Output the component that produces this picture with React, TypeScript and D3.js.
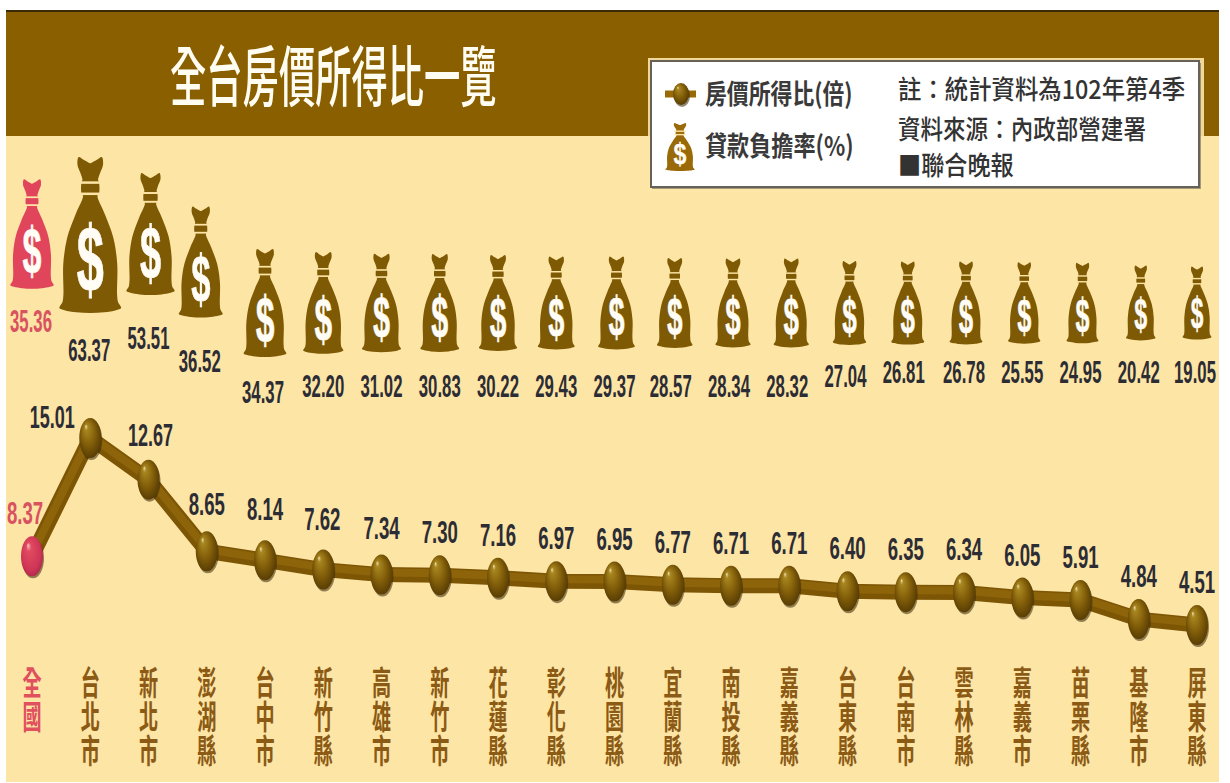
import React from "react";
import * as d3 from "d3";

const categories = ["全國","台北市","新北市","澎湖縣","台中市","新竹縣","高雄市","新竹市","花蓮縣","彰化縣","桃園縣","宜蘭縣","南投縣","嘉義縣","台東縣","台南市","雲林縣","嘉義市","苗栗縣","基隆市","屏東縣"];
const loanBurden = [35.36,63.37,53.51,36.52,34.37,32.20,31.02,30.83,30.22,29.43,29.37,28.57,28.34,28.32,27.04,26.81,26.78,25.55,24.95,20.42,19.05];
const priceIncome = [8.37,15.01,12.67,8.65,8.14,7.62,7.34,7.30,7.16,6.97,6.95,6.77,6.71,6.71,6.40,6.35,6.34,6.05,5.91,4.84,4.51];
const noteLines = ["註：統計資料為102年第4季","資料來源：內政部營建署","■聯合晚報"];

const BROWN = "#8a5f00";
const BAG = "#7f5a04";
const CREAM = "#fde5a6";
const RED = "#e0455c";
const INK = "#2c2c34";
const SANS = "'Liberation Sans', Arial, sans-serif";
const CJK = "'Noto Sans CJK TC', sans-serif";

const x = d3.scalePoint<number>().domain(d3.range(categories.length)).range([32, 1197]);
const y = d3.scaleLinear().domain([4.51, 15.01]).range([625, 438]);
// Bag height grows with the burden rate, with a stronger step for the two largest markets.
const bagHeight = d3.scaleLinear()
  .domain([19.05, 26.78, 30.22, 34.37, 36.52, 53.51, 63.37])
  .range([73, 83, 96, 108, 111, 122, 156]);

// The first four bags sit higher than the rest of the row.
const bagCentre = (i: number) => [234, 235, 234, 262][i] ?? 303;
const bagShift = (i: number) => [0, 0, 2, -6, 0][i] ?? (i >= 10 && i < 20 ? 2 : 0);
const bagLabelCentre = (i: number) =>
  [321, 350, 338, 361, 392][i] ?? (i < 14 ? 386 : i === 14 ? 376 : 372);
const bagLabelShift = (i: number) =>
  [-1, -1, 0, -7, -2][i] ?? (i >= 11 && i < 16 ? -2 : i === 20 ? -2 : 0);
const pointLabelCentre = (i: number, py: number) =>
  [513, 417, 435, 504, 509, 519, 528][i] ?? py - 43;
const pointLabelShift = (i: number) => [-7, -38, 2, 0, 0, -1, 0][i] ?? 0;

const bagOutline = d3.line<[number, number]>().curve(d3.curveCatmullRom.alpha(0.5));
const rightSide: [number, number][] = [
  [0, 0.042], [0.04, 0.02], [0.074, 0], [0.082, 0.05], [0.06, 0.11], [0.05, 0.148],
  [0.056, 0.16], [0.056, 0.235], [0.046, 0.248],
  [0.095, 0.37], [0.148, 0.518], [0.173, 0.687], [0.172, 0.88], [0.178, 0.93], [0.198, 0.968],
  [0.165, 0.982], [0.09, 0.995], [0, 1],
];
const bagPath = (h: number) => {
  const right = rightSide.map(([a, b]) => [a * h, b * h] as [number, number]);
  const left = right.slice(1, -1).reverse().map(([a, b]) => [-a, b] as [number, number]);
  return bagOutline([...right, ...left, right[0]]) ?? "";
};

function MoneyBag({ cx, cy, h, fill, stretch = 1 }: { cx: number; cy: number; h: number; fill: string; stretch?: number }) {
  const fs = h * 0.6;
  const stripe = Math.max(1.4, h * 0.016);
  return (
    <g transform={`translate(${cx},${cy - h / 2}) scale(${stretch},1)`}>
      <path d={bagPath(h)} fill={fill} />
      <rect x={-h * 0.075} y={h * 0.156} width={h * 0.15} height={stripe} fill={CREAM} />
      <rect x={-h * 0.075} y={h * 0.228} width={h * 0.15} height={stripe} fill={CREAM} />
      <text
        transform={`translate(0,${h * 0.66 + fs * 0.335}) scale(0.52,1)`}
        textAnchor="middle" fontFamily={SANS} fontWeight={700} fontSize={fs} fill="#fffdf5"
        stroke="#fffdf5" strokeWidth={h * 0.006}
      >$</text>
    </g>
  );
}

function Ball({ cx, cy, grad, rx = 11, ry = 20 }: { cx: number; cy: number; grad: string; rx?: number; ry?: number }) {
  return (
    <g>
      <ellipse cx={cx + 1} cy={cy + 2} rx={rx} ry={ry} fill="#3a2a08" opacity={0.55} />
      <ellipse cx={cx} cy={cy} rx={rx} ry={ry} fill={`url(#${grad})`} />
    </g>
  );
}

// Figures are set in a tall, condensed cut of the bold sans.
function Value({ text, cx, cy, squeeze, fill }: { text: string; cx: number; cy: number; squeeze: number; fill: string }) {
  return (
    <text transform={`translate(${cx},${cy + 11}) scale(${squeeze},1)`} textAnchor="middle"
      fontFamily={SANS} fontWeight={700} fontSize={31} fill={fill}>{text}</text>
  );
}

function Condensed({ text, left, base, size, weight, squeeze, fill }:
  { text: string; left: number; base: number; size: number; weight: number; squeeze: number; fill: string }) {
  return (
    <text transform={`translate(${left},${base}) scale(${squeeze},1)`} fontFamily={CJK}
      fontWeight={weight} fontSize={size} fill={fill}>{text}</text>
  );
}

export default function App() {
  const trend = d3.line<number>().x((_, i) => x(i)!).y((v) => y(v));
  return (
    <svg width={1230} height={783} viewBox="0 0 1230 783"
      style={{ position: "fixed", left: 0, top: 0, display: "block", background: "#fff" }}>
      <defs>
        <radialGradient id="ballBrown" cx="0.5" cy="0.5" r="0.62" fx="0.3" fy="0.2">
          <stop offset="0" stopColor="#efe3b6" />
          <stop offset="0.12" stopColor="#a8861f" />
          <stop offset="0.5" stopColor="#84600a" />
          <stop offset="0.85" stopColor="#5c4004" />
          <stop offset="1" stopColor="#3c2a02" />
        </radialGradient>
        <radialGradient id="ballRed" cx="0.5" cy="0.5" r="0.62" fx="0.32" fy="0.22">
          <stop offset="0" stopColor="#f8c4c8" />
          <stop offset="0.18" stopColor="#e24a60" />
          <stop offset="0.7" stopColor="#cf3556" />
          <stop offset="1" stopColor="#9c2248" />
        </radialGradient>
      </defs>

      <rect x={6} y={10} width={1213} height={772} fill={CREAM} />
      <rect x={6} y={10} width={1213} height={126} fill={BROWN} />
      <rect x={6} y={10} width={1213} height={2} fill="#3a2a06" />

      <Condensed text="全台房價所得比一覽" left={170} base={101} size={66} weight={500} squeeze={0.55} fill="#fffdf2" />

      <rect x={648} y={58} width={556} height={134} fill={CREAM} opacity={0.9} />
      <rect x={652} y={63} width={549} height={126} fill="#5e5a50" opacity={0.55} />
      <rect x={651} y={61} width={548} height={126} fill="#fff" stroke="#66625a" strokeWidth={2} />

      <line x1={665} x2={696} y1={94} y2={94} stroke="#9a6a08" strokeWidth={7} />
      <Ball cx={681} cy={94} grad="ballBrown" rx={8} ry={11} />
      <MoneyBag cx={680} cy={147} h={48} fill="#9a6a08" stretch={1.55} />
      <Condensed text="房價所得比(倍)" left={705} base={104} size={27} weight={700} squeeze={0.81} fill="#3a3a3a" />
      <Condensed text="貸款負擔率(%)" left={705} base={156} size={27} weight={700} squeeze={0.82} fill="#3a3a3a" />
      {noteLines.map((line, i) => (
        <Condensed key={line} text={line} left={898} base={[99, 139, 175][i]} size={26} weight={500}
          squeeze={[0.9, 0.867, 0.89][i]} fill="#333" />
      ))}

      {loanBurden.map((v, i) => (
        <MoneyBag key={categories[i]} cx={x(i)! + bagShift(i)} cy={bagCentre(i)} h={bagHeight(v)}
          fill={i === 0 ? RED : BAG} />
      ))}
      {loanBurden.map((v, i) => (
        <Value key={categories[i]} text={v.toFixed(2)} cx={x(i)! + bagLabelShift(i)} cy={bagLabelCentre(i)}
          squeeze={0.54} fill={i === 0 ? "#d9525f" : INK} />
      ))}

      <path d={trend(priceIncome) ?? ""} fill="none" stroke="#7c5505" strokeWidth={15} strokeLinejoin="round" />
      <path d={trend(priceIncome) ?? ""} fill="none" stroke="#8e640a" strokeWidth={8} strokeLinejoin="round"
        transform="translate(0,-2)" />
      {priceIncome.map((v, i) => (
        <Ball key={categories[i]} cx={x(i)!} cy={y(v)} grad={i === 0 ? "ballRed" : "ballBrown"} />
      ))}
      {priceIncome.map((v, i) => (
        <Value key={categories[i]} text={v.toFixed(2)} cx={x(i)! + pointLabelShift(i)}
          cy={pointLabelCentre(i, y(v))} squeeze={v >= 10 ? 0.58 : 0.6} fill={i === 0 ? "#d9525f" : INK} />
      ))}

      {/* Place names run top to bottom, one column per area. */}
      {categories.map((name, i) => (
        <text key={name} transform={`translate(${x(i)},666) scale(0.58,1)`}
          style={{ writingMode: "vertical-rl" }} letterSpacing={1}
          fontFamily={CJK} fontWeight={700} fontSize={33} fill={i === 0 ? "#e0505f" : "#8b5a14"}>{name}</text>
      ))}
    </svg>
  );
}
